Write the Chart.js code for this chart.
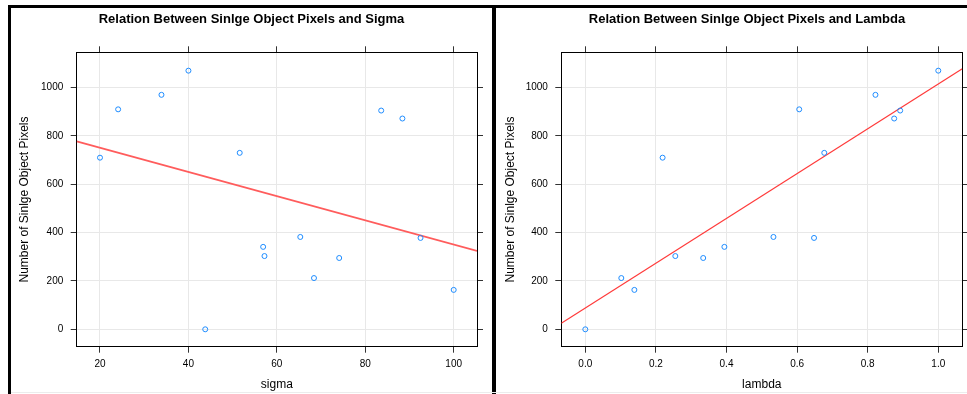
<!DOCTYPE html>
<html lang="en">
<head>
<meta charset="UTF-8" />
<title>Sinlge Object Pixels vs Sigma / Lambda</title>
<script src="https://cdn.jsdelivr.net/npm/chart.js"></script>
<style>
    body { margin: 0; background: #fff; width: 967px; height: 394px; overflow: hidden; position: relative; }
    .bar { position: absolute; background: #000; }
    canvas { position: absolute; }
</style>
</head>
<body>
<div class="bar" style="left:8px; top:5px; width:959px; height:3px;"></div>
<div class="bar" style="left:8px; top:5px; width:3px; height:389px;"></div>
<div class="bar" style="left:492px; top:5px; width:4px; height:389px;"></div>
<div class="bar" style="left:11px; top:392px; width:956px; height:1px; background:#ececec;"></div>

<canvas id="sigmaChart" width="481" height="386" style="left:11px; top:8px;"></canvas>
<canvas id="lambdaChart" width="502" height="386" style="left:496px; top:8px;"></canvas>

<script>
    // values
    const pixels = [710, 910, 970, 1070, 730, 905, 872, 0, 341, 303, 382, 212, 295, 378, 163];
    const sigma = [20, 24.1, 33.9, 40, 51.6, 83.6, 88.4, 43.8, 56.9, 57.2, 65.3, 68.4, 74.1, 92.5, 100];
    const lambda = [0.219, 0.606, 0.822, 1.0, 0.677, 0.892, 0.875, 0.0, 0.394, 0.255, 0.533, 0.102, 0.334, 0.648, 0.139];

    // fitted lines, end points at the panel edges
    const sigmaFitX = [14.73, 105.27];
    const sigmaFitY = [777, 324];
    const lambdaFitX = [-0.068, 1.068];
    const lambdaFitY = [25, 1078];

    // axis ranges and ticks
    const sigmaRange = [14.73, 105.27];
    const lambdaRange = [-0.068, 1.068];
    const pixelRange = [-72, 1146];
    const sigmaTicks = [20, 40, 60, 80, 100];
    const lambdaTicks = [0, 0.2, 0.4, 0.6, 0.8, 1.0];
    const pixelTicks = [0, 200, 400, 600, 800, 1000];

    Chart.defaults.font.family = 'Arial, "Liberation Sans", sans-serif';
    Chart.defaults.color = '#000';

    function setTicks(values) {
        return function (scale) {
            scale.ticks = values.map(v => ({ value: v }));
        };
    }

    function makePanel(id, opts) {
        const ctx = document.getElementById(id).getContext('2d');
        const points = opts.xs.map((x, i) => ({ x: x, y: pixels[i] }));
        const fit = opts.fitX.map((x, i) => ({ x: x, y: opts.fitY[i] }));

        const grid = { color: '#e8e8e8', tickColor: '#333', tickLength: 6, lineWidth: 1 };
        const border = { display: true, color: '#000', width: 1 };

        return new Chart(ctx, {
            type: 'scatter',
            data: {
                datasets: [
                    {
                        data: points,
                        pointStyle: 'circle',
                        pointRadius: 2.5,
                        pointBorderWidth: 1,
                        borderColor: '#1e8cff',
                        backgroundColor: 'rgba(0,0,0,0)'
                    },
                    {
                        data: fit,
                        showLine: true,
                        pointRadius: 0,
                        borderColor: opts.lineColor,
                        borderWidth: opts.lineWidth
                    }
                ]
            },
            options: {
                responsive: false,
                animation: false,
                devicePixelRatio: 1,
                layout: { padding: 0 },
                plugins: {
                    legend: { display: false },
                    tooltip: { enabled: false },
                    title: {
                        display: true,
                        text: opts.title,
                        color: '#000',
                        font: { size: 13, weight: 'bold' },
                        padding: { top: 3.5, bottom: 0 }
                    }
                },
                scales: {
                    x: {
                        type: 'linear',
                        position: 'bottom',
                        min: opts.range[0],
                        max: opts.range[1],
                        afterBuildTicks: setTicks(opts.ticks),
                        afterFit: s => { s.height = 47.3; },
                        grid: grid,
                        border: border,
                        ticks: { font: { size: 10 }, padding: 5.6, maxRotation: 0, callback: opts.fmt },
                        title: { display: true, text: opts.xLabel, font: { size: 12 }, padding: { top: 0, bottom: 1.8 } }
                    },
                    x2: {
                        type: 'linear',
                        position: 'top',
                        min: opts.range[0],
                        max: opts.range[1],
                        afterBuildTicks: setTicks(opts.ticks),
                        afterFit: s => { s.height = 25.2; },
                        grid: Object.assign({}, grid, { drawOnChartArea: false }),
                        border: border,
                        ticks: { display: false }
                    },
                    y: {
                        type: 'linear',
                        position: 'left',
                        min: pixelRange[0],
                        max: pixelRange[1],
                        afterBuildTicks: setTicks(pixelTicks),
                        afterFit: s => { s.width = opts.left; },
                        grid: grid,
                        border: border,
                        ticks: { font: { size: 10 }, padding: 7.4, callback: v => String(v) },
                        title: { display: true, text: 'Number of Sinlge Object Pixels', font: { size: 12 }, padding: { top: opts.yTitlePad, bottom: 0 } }
                    },
                    y2: {
                        type: 'linear',
                        position: 'right',
                        min: pixelRange[0],
                        max: pixelRange[1],
                        afterBuildTicks: setTicks(pixelTicks),
                        afterFit: s => { s.width = opts.right; },
                        grid: Object.assign({}, grid, { drawOnChartArea: false }),
                        border: border,
                        ticks: { display: false }
                    }
                }
            }
        });
    }

    makePanel('sigmaChart', {
        title: 'Relation Between Sinlge Object Pixels and Sigma',
        xLabel: 'sigma',
        xs: sigma,
        fitX: sigmaFitX,
        fitY: sigmaFitY,
        range: sigmaRange,
        ticks: sigmaTicks,
        fmt: v => String(v),
        lineColor: '#ff5c5c',
        lineWidth: 1.8,
        left: 65.7,
        right: 15,
        yTitlePad: 6.3
    });

    makePanel('lambdaChart', {
        title: 'Relation Between Sinlge Object Pixels and Lambda',
        xLabel: 'lambda',
        xs: lambda,
        fitX: lambdaFitX,
        fitY: lambdaFitY,
        range: lambdaRange,
        ticks: lambdaTicks,
        fmt: v => Number(v).toFixed(1),
        lineColor: '#ff3a3a',
        lineWidth: 1.2,
        left: 65.3,
        right: 35.7,
        yTitlePad: 7.3
    });
</script>
</body>
</html>
